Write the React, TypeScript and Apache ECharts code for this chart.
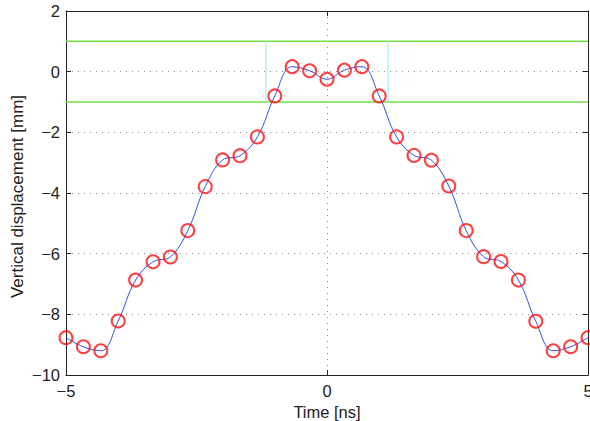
import React, { useEffect, useRef } from "react";
import * as echarts from "echarts";

const times = [
  -5, -4.667, -4.333, -4, -3.667, -3.333, -3, -2.667, -2.333, -2, -1.667, -1.333, -1, -0.667, -0.333,
  0, 0.333, 0.667, 1, 1.333, 1.667, 2, 2.333, 2.667, 3, 3.333, 3.667, 4, 4.333, 4.667, 5,
];
const displacement = [
  -8.77, -9.07, -9.2, -8.22, -6.87, -6.27, -6.11, -5.24, -3.79, -2.91, -2.77, -2.15, -0.8, 0.165, 0.03,
  -0.25, 0.05, 0.165, -0.8, -2.15, -2.76, -2.92, -3.77, -5.24, -6.1, -6.26, -6.87, -8.23, -9.2, -9.07, -8.77,
];
const limitLevels = [1, -1];
const crossingTimes = [-1.17, 1.17];
const xTicks = [-5, 0, 5];
const yTicks = [-10, -8, -6, -4, -2, 0, 2];
const xTitle = "Time [ns]";
const yTitle = "Vertical displacement [mm]";

const fmt = (v: number) => String(v).replace("-", "\u2212");

export default function App() {
  const ref = useRef<HTMLDivElement>(null);
  useEffect(() => {
    const chart = echarts.init(ref.current!, undefined, { renderer: "svg" });
    const font = "'Liberation Sans', Arial, sans-serif";
    const axisLineStyle = { color: "#222", width: 1 };
    const pts = times.map((t, i) => [t, displacement[i]]);
    const series: any[] = [];
    limitLevels.forEach((lv) => {
      series.push({
        type: "line",
        data: [
          [xTicks[0], lv],
          [xTicks[xTicks.length - 1], lv],
        ],
        symbol: "none",
        lineStyle: { color: "#77dd44", width: 1.5 },
        silent: true,
      });
    });
    crossingTimes.forEach((ct) => {
      series.push({
        type: "line",
        data: [
          [ct, limitLevels[1]],
          [ct, limitLevels[0]],
        ],
        symbol: "none",
        lineStyle: { color: "#aaf0ee", width: 1.2 },
        silent: true,
      });
    });
    series.push({
      type: "line",
      data: pts,
      smooth: 0.4,
      showSymbol: false,
      symbol: "none",
      lineStyle: { color: "#3050e0", width: 1 },
    });
    series.push({
      type: "scatter",
      data: pts,
      symbol: "circle",
      symbolSize: 13,
      clip: false,
      itemStyle: { color: "rgba(0,0,0,0)", borderColor: "#ff1010", borderWidth: 2 },
      z: 5,
    });
    const baseY = { min: yTicks[0], max: yTicks[yTicks.length - 1], interval: 2 };
    const baseX = { min: xTicks[0], max: xTicks[xTicks.length - 1], interval: 5 };
    chart.setOption({
      animation: false,
      backgroundColor: "#fff",
      grid: { left: 66, top: 11, right: 2, bottom: 46, containLabel: false, outerBoundsMode: "none" },
      graphic: [
        {
          type: "text",
          x: 17.5,
          y: 196.5,
          rotation: Math.PI / 2,
          style: {
            text: yTitle,
            font: `17px ${font}`,
            fill: "#222",
            align: "center",
            verticalAlign: "middle",
          },
        },
      ],
      xAxis: [
        {
          type: "value",
          ...baseX,
          name: xTitle,
          nameLocation: "middle",
          nameGap: 25,
          nameTextStyle: { fontFamily: font, fontSize: 16.5, color: "#222" },
          axisLine: { show: true, onZero: false, lineStyle: axisLineStyle },
          axisTick: { show: true, inside: true, length: 5, lineStyle: axisLineStyle },
          axisLabel: { formatter: fmt, fontFamily: font, fontSize: 16.5, color: "#222", margin: 7 },
          splitLine: { show: true, lineStyle: { color: "#888", type: [1, 5], width: 1 } },
        },
        {
          type: "value",
          position: "top",
          ...baseX,
          axisLine: { show: true, onZero: false, lineStyle: axisLineStyle },
          axisTick: { show: true, inside: true, length: 5, lineStyle: axisLineStyle },
          axisLabel: { show: false },
          splitLine: { show: false },
        },
      ],
      yAxis: [
        {
          type: "value",
          ...baseY,
          axisLine: { show: true, onZero: false, lineStyle: axisLineStyle },
          axisTick: { show: true, inside: true, length: 5, lineStyle: axisLineStyle },
          axisLabel: { formatter: fmt, fontFamily: font, fontSize: 16.5, color: "#222", margin: 6 },
          splitLine: { show: true, lineStyle: { color: "#888", type: [1, 5], width: 1 } },
        },
        {
          type: "value",
          position: "right",
          ...baseY,
          axisLine: { show: true, onZero: false, lineStyle: axisLineStyle },
          axisTick: { show: true, inside: true, length: 5, lineStyle: axisLineStyle },
          axisLabel: { show: false },
          splitLine: { show: false },
        },
      ],
      series,
    });
    return () => chart.dispose();
  }, []);
  return (
    <div
      ref={ref}
      style={{ position: "fixed", left: 0, top: 0, width: 590, height: 421 }}
    />
  );
}
